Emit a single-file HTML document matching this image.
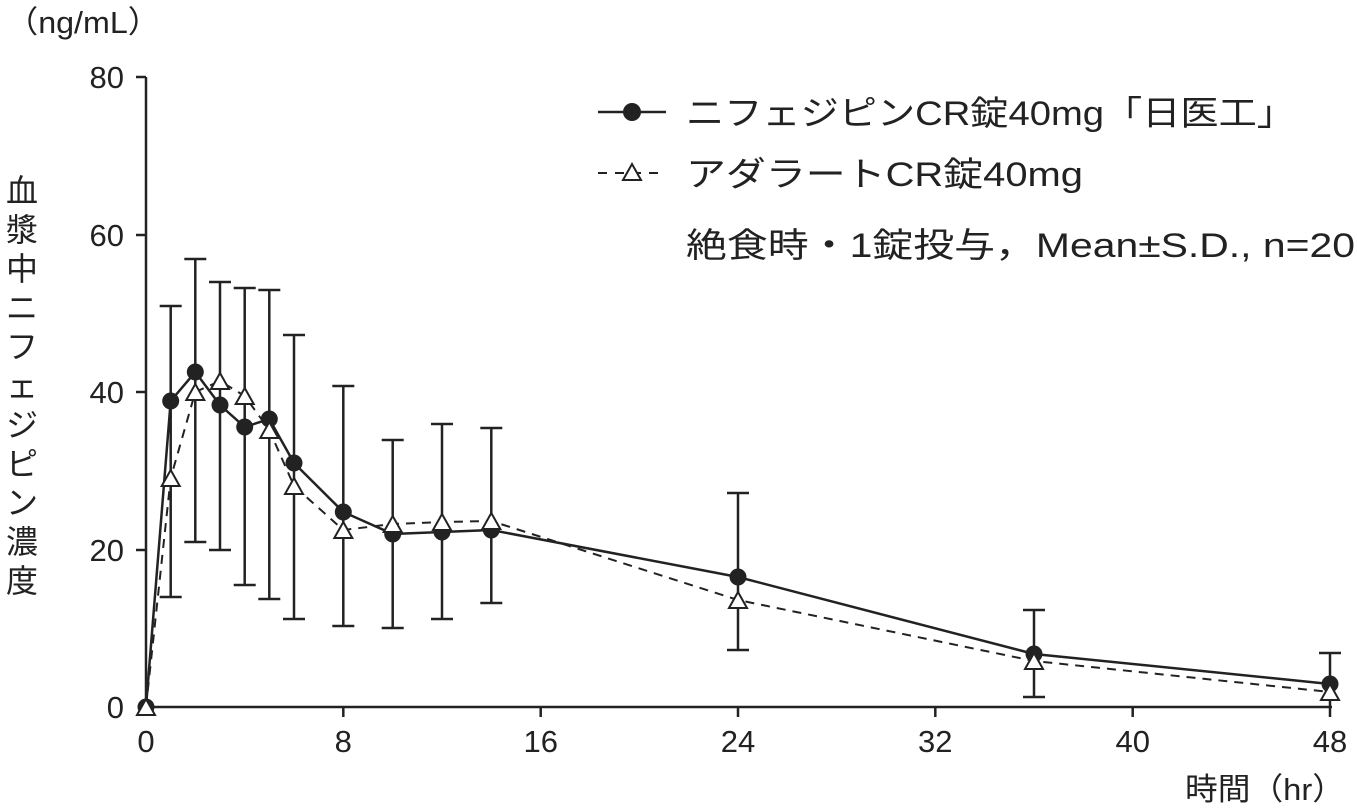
<!DOCTYPE html>
<html><head><meta charset="utf-8"><style>
body{margin:0;background:#fff;}
svg{display:block;font-family:"Liberation Sans","Noto Sans CJK JP",sans-serif;}
</style></head><body>
<svg width="1357" height="808" viewBox="0 0 1357 808" xmlns="http://www.w3.org/2000/svg">
<g stroke="#222" stroke-width="2.5" fill="none">
<line x1="146" y1="77" x2="146" y2="708"/>
<line x1="145" y1="707" x2="1332" y2="707"/>
<line x1="136" y1="77" x2="146" y2="77"/>
<line x1="136" y1="235" x2="146" y2="235"/>
<line x1="136" y1="392" x2="146" y2="392"/>
<line x1="136" y1="550" x2="146" y2="550"/>
<line x1="343.3" y1="707" x2="343.3" y2="717"/>
<line x1="540.7" y1="707" x2="540.7" y2="717"/>
<line x1="738" y1="707" x2="738" y2="717"/>
<line x1="935.3" y1="707" x2="935.3" y2="717"/>
<line x1="1132.7" y1="707" x2="1132.7" y2="717"/>
<line x1="1330" y1="707" x2="1330" y2="717"/>
</g>
<g font-size="31" fill="#222" text-anchor="end">
<text x="124" y="88">80</text><text x="124" y="246">60</text><text x="124" y="403">40</text><text x="124" y="561">20</text><text x="124" y="718">0</text>
</g>
<g font-size="31" fill="#222" text-anchor="middle">
<text x="146" y="752">0</text><text x="343.3" y="752">8</text><text x="540.7" y="752">16</text><text x="738" y="752">24</text><text x="935.3" y="752">32</text><text x="1132.7" y="752">40</text><text x="1330" y="752">48</text>
</g>
<text x="6" y="33" font-size="31" fill="#222" textLength="154" lengthAdjust="spacingAndGlyphs">（ng/mL）</text>
<text x="1185" y="800" font-size="31" fill="#222" textLength="160" lengthAdjust="spacingAndGlyphs">時間（hr）</text>
<g font-size="32" fill="#222" text-anchor="middle">
<text x="22" y="202">血</text><text x="22" y="241">漿</text><text x="22" y="280">中</text><text x="22" y="319">ニ</text><text x="22" y="358">フ</text><text x="22" y="397">ェ</text><text x="22" y="436">ジ</text><text x="22" y="475">ピ</text><text x="22" y="514">ン</text><text x="22" y="553">濃</text><text x="22" y="592">度</text>
</g>
<g stroke="#222" stroke-width="2.5">
<path d="M170.7 306V597M159.7 306H181.7M159.7 597H181.7"/>
<path d="M195.3 259V542M184.3 259H206.3M184.3 542H206.3"/>
<path d="M220 282V550M209 282H231M209 550H231"/>
<path d="M244.7 288V585M233.7 288H255.7M233.7 585H255.7"/>
<path d="M269.3 290V599M258.3 290H280.3M258.3 599H280.3"/>
<path d="M294 335V619M283 335H305M283 619H305"/>
<path d="M343.3 386V626M332.3 386H354.3M332.3 626H354.3"/>
<path d="M392.7 440V628M381.7 440H403.7M381.7 628H403.7"/>
<path d="M442 424V619M431 424H453M431 619H453"/>
<path d="M491.3 428V603M480.3 428H502.3M480.3 603H502.3"/>
<path d="M738 493V650M727 493H749M727 650H749"/>
<path d="M1034 610V697M1023 610H1045M1023 697H1045"/>
<path d="M1330 653V707M1319 653H1341"/>
</g>
<polyline fill="none" stroke="#222" stroke-width="2" stroke-dasharray="9,7" points="146,707 170.7,478 195.3,392 220,381 244.7,396 269.3,430 294,486 343.3,530 392.7,524 442,522 491.3,521 738,600 1034,661 1330,692"/>
<polyline fill="none" stroke="#222" stroke-width="2.5" points="146,707 170.7,401 195.3,372 220,405 244.7,427 269.3,419 294,463 343.3,512 392.7,534 442,532 491.3,530 738,577 1034,654 1330,684"/>
<g fill="#222">
<circle cx="146" cy="707" r="8.5"/><circle cx="170.7" cy="401" r="8.5"/><circle cx="195.3" cy="372" r="8.5"/><circle cx="220" cy="405" r="8.5"/><circle cx="244.7" cy="427" r="8.5"/><circle cx="269.3" cy="419" r="8.5"/><circle cx="294" cy="463" r="8.5"/><circle cx="343.3" cy="512" r="8.5"/><circle cx="392.7" cy="534" r="8.5"/><circle cx="442" cy="532" r="8.5"/><circle cx="491.3" cy="530" r="8.5"/><circle cx="738" cy="577" r="8.5"/><circle cx="1034" cy="654" r="8.5"/><circle cx="1330" cy="684" r="8.5"/>
</g>
<g fill="#fff" stroke="#222" stroke-width="2">
<path d="M146 699l9 16h-18z"/>
<path d="M170.7 470l9 16h-18z"/><path d="M195.3 384l9 16h-18z"/><path d="M220 373l9 16h-18z"/><path d="M244.7 388l9 16h-18z"/><path d="M269.3 422l9 16h-18z"/><path d="M294 478l9 16h-18z"/><path d="M343.3 522l9 16h-18z"/><path d="M392.7 516l9 16h-18z"/><path d="M442 514l9 16h-18z"/><path d="M491.3 513l9 16h-18z"/><path d="M738 592l9 16h-18z"/><path d="M1034 653l9 16h-18z"/><path d="M1330 684l9 16h-18z"/>
</g>
<line x1="598" y1="112" x2="666" y2="112" stroke="#222" stroke-width="2.5"/>
<circle cx="632" cy="112" r="9" fill="#222"/>
<line x1="598" y1="173" x2="666" y2="173" stroke="#222" stroke-width="2" stroke-dasharray="9,8"/>
<path d="M632 164l9 16h-18z" fill="#fff" stroke="#222" stroke-width="2"/>
<g font-size="34" fill="#222">
<text x="686" y="125" textLength="609" lengthAdjust="spacingAndGlyphs">ニフェジピンCR錠40mg「日医工」</text>
<text x="686" y="186" textLength="397" lengthAdjust="spacingAndGlyphs">アダラートCR錠40mg</text>
<text x="686" y="257" textLength="669" lengthAdjust="spacingAndGlyphs">絶食時・1錠投与，Mean±S.D., n=20</text>
</g>
</svg>
</body></html>
